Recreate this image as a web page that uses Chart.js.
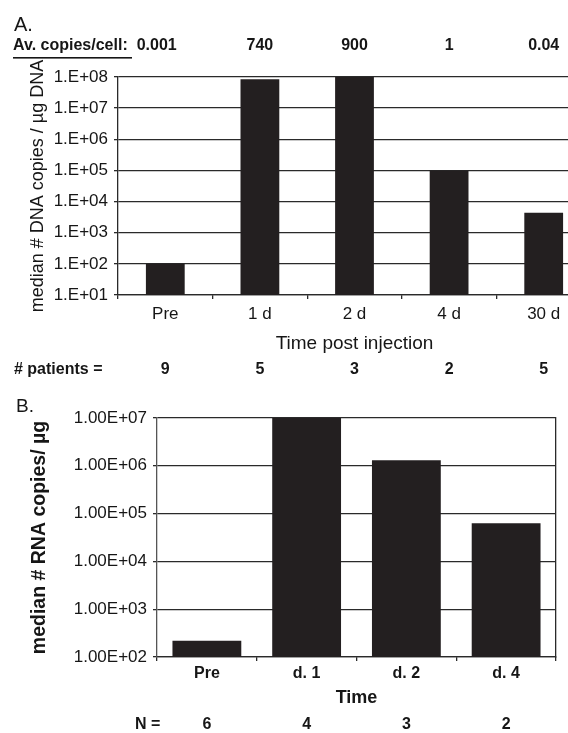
<!DOCTYPE html>
<html><head><meta charset="utf-8">
<script src="https://cdn.jsdelivr.net/npm/chart.js@4.4.0/dist/chart.umd.min.js"></script>
<style>
html,body{margin:0;padding:0;background:#fff;overflow:hidden;width:568px;height:733px;}
#wa{position:absolute;left:0;top:0;width:600px;height:380px;}
#wb{position:absolute;left:0;top:380px;width:568px;height:353px;}
</style></head><body>
<div id="wa"><canvas id="ca" width="600" height="380"></canvas></div>
<div id="wb"><canvas id="cb" width="568" height="353"></canvas></div>
<script>
// ---- Panel A data ----
const catsA = ['Pre', '1 d', '2 d', '4 d', '30 d'];
const dnaA = [1e2, 8.5e7, 1e8, 1e5, 4.4e3];
const avCopiesA = ['0.001', '740', '900', '1', '0.04'];
const patientsA = ['9', '5', '3', '2', '5'];
const tickValsA = [1e1, 1e2, 1e3, 1e4, 1e5, 1e6, 1e7, 1e8];
const tickLabelsA = ['1.E+01', '1.E+02', '1.E+03', '1.E+04', '1.E+05', '1.E+06', '1.E+07', '1.E+08'];
// ---- Panel B data ----
const catsB = ['Pre', 'd. 1', 'd. 2', 'd. 4'];
const rnaB = [2.2e2, 1e7, 1.3e6, 6.3e4];
const nB = ['6', '4', '3', '2'];
const tickValsB = [1e2, 1e3, 1e4, 1e5, 1e6, 1e7];
const tickLabelsB = ['1.00E+02', '1.00E+03', '1.00E+04', '1.00E+05', '1.00E+06', '1.00E+07'];

const FAM = '"Liberation Sans", Arial, Helvetica, sans-serif';
const INK = '#161616';
const GRID = '#2a2a2a';
const BAR = '#231f20';
Chart.defaults.font.family = FAM;
Chart.defaults.color = INK;

const extrasA = {
  id: 'extrasA',
  afterDraw(chart) {
    const ctx = chart.ctx, xs = chart.scales.x;
    ctx.save();
    ctx.fillStyle = INK;
    ctx.textBaseline = 'middle';
    ctx.textAlign = 'left';
    ctx.font = '20px ' + FAM;
    ctx.fillText('A.', 14, 25);
    ctx.font = 'bold 16px ' + FAM;
    const lab = 'Av. copies/cell:';
    ctx.fillText(lab, 13, 46);
    const w = ctx.measureText(lab).width;
    ctx.fillRect(13, 57, 119, 1.6);
    avCopiesA.forEach((t, i) => {
      if (i === 0) { ctx.textAlign = 'left'; ctx.fillText(t, 13 + w + 9, 46); }
      else { ctx.textAlign = 'center'; ctx.fillText(t, xs.getPixelForValue(i), 46); }
    });
    ctx.textAlign = 'left';
    ctx.fillText('# patients =', 14, 370);
    ctx.textAlign = 'center';
    patientsA.forEach((t, i) => ctx.fillText(t, xs.getPixelForValue(i), 370));
    ctx.restore();
  }
};

const extrasB = {
  id: 'extrasB',
  afterDraw(chart) {
    const ctx = chart.ctx, xs = chart.scales.x;
    ctx.save();
    ctx.fillStyle = INK;
    ctx.textBaseline = 'middle';
    ctx.textAlign = 'left';
    ctx.font = '19px ' + FAM;
    ctx.fillText('B.', 16, 27);
    ctx.font = 'bold 16px ' + FAM;
    ctx.fillText('N =', 135, 345);
    ctx.textAlign = 'center';
    nB.forEach((t, i) => ctx.fillText(t, xs.getPixelForValue(i), 345));
    ctx.restore();
  }
};

new Chart(document.getElementById('ca'), {
  type: 'bar',
  data: { labels: catsA, datasets: [{ data: dnaA, backgroundColor: BAR, borderWidth: 0, barPercentage: 0.41, categoryPercentage: 1 }] },
  options: {
    responsive: false, animation: false, devicePixelRatio: 1,
    layout: { padding: { left: 0, top: 77, right: 9, bottom: 15 } },
    plugins: { legend: { display: false }, tooltip: { enabled: false } },
    scales: {
      x: {
        afterFit: s => { s.height = 70; },
        grid: { display: true, drawOnChartArea: false, tickLength: 4, color: GRID, lineWidth: 1.3, offset: true },
        border: { display: true, color: GRID, width: 1.3 },
        ticks: { font: { size: 17 }, color: INK, padding: 5, maxRotation: 0, autoSkip: false },
        title: { display: true, text: 'Time post injection', font: { size: 19 }, color: INK, padding: { top: 0, bottom: 10 } }
      },
      y: {
        type: 'logarithmic', min: 10, max: 1e8,
        afterBuildTicks: s => { s.ticks = tickValsA.map(v => ({ value: v })); },
        afterFit: s => { s.width = 118; },
        ticks: { callback: v => tickLabelsA[tickValsA.indexOf(v)], font: { size: 17 }, color: INK, padding: 6, autoSkip: false },
        grid: { color: GRID, lineWidth: 1.3, tickLength: 4 },
        border: { display: true, color: GRID, width: 1.3 },
        title: { display: true, text: 'median # DNA copies / µg DNA', font: { size: 18 }, color: INK, padding: { top: 27, bottom: 0 } }
      }
    }
  },
  plugins: [extrasA]
});

new Chart(document.getElementById('cb'), {
  type: 'bar',
  data: { labels: catsB, datasets: [{ data: rnaB, backgroundColor: BAR, borderWidth: 0, barPercentage: 0.69, categoryPercentage: 1, yAxisID: 'y' }] },
  options: {
    responsive: false, animation: false, devicePixelRatio: 1,
    layout: { padding: { left: 0, top: 38, right: 12, bottom: 16 } },
    plugins: { legend: { display: false }, tooltip: { enabled: false } },
    scales: {
      x: {
        afterFit: s => { s.height = 60; },
        grid: { display: true, drawOnChartArea: false, tickLength: 4, color: GRID, lineWidth: 1.3, offset: true },
        border: { display: true, color: GRID, width: 1.3 },
        ticks: { font: { size: 16, weight: 'bold' }, color: INK, padding: 3.4, maxRotation: 0, autoSkip: false },
        title: { display: true, text: 'Time', font: { size: 18, weight: 'bold' }, color: INK, padding: { top: 0, bottom: 8 } }
      },
      y: {
        type: 'logarithmic', min: 1e2, max: 1e7,
        afterBuildTicks: s => { s.ticks = tickValsB.map(v => ({ value: v })); },
        afterFit: s => { s.width = 157; },
        ticks: { callback: v => tickLabelsB[tickValsB.indexOf(v)], font: { size: 17 }, color: INK, padding: 6, autoSkip: false },
        grid: { color: GRID, lineWidth: 1.3, tickLength: 4 },
        border: { display: true, color: '#555', width: 1.3 },
        title: { display: true, text: 'median # RNA copies/ µg', font: { size: 19.5, weight: 'bold' }, color: INK, padding: { top: 28, bottom: 0 } }
      },
      y2: {
        type: 'logarithmic', position: 'right', min: 1e2, max: 1e7,
        afterFit: s => { s.width = 0; },
        ticks: { display: false },
        grid: { display: false },
        border: { display: true, color: GRID, width: 1.3 }
      }
    }
  },
  plugins: [extrasB]
});
</script>
</body></html>
